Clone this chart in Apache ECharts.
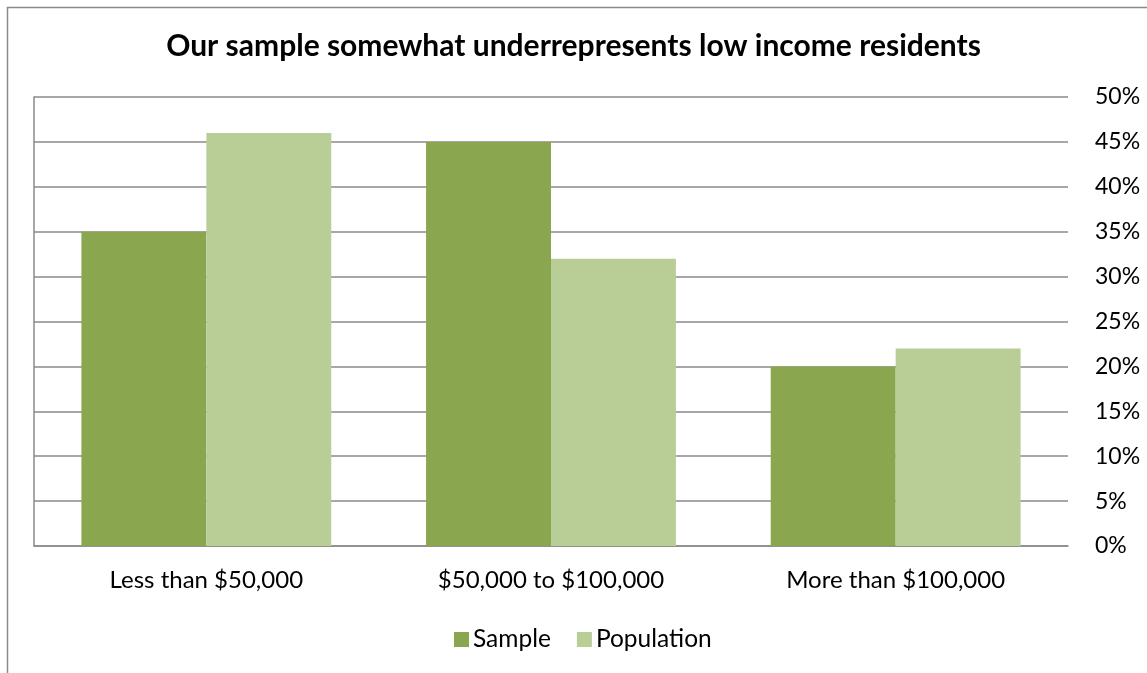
<!DOCTYPE html>
<html>
<head>
<meta charset="utf-8">
<script src="https://cdn.jsdelivr.net/npm/echarts@6/dist/echarts.min.js"></script>
<style>
  html, body { margin: 0; padding: 0; background: #fff; }
  #chart { width: 1147px; height: 673px; }
</style>
</head>
<body>
<div id="chart"></div>
<script>
// Income brackets and shares (fractions of respondents / residents)
const categories = ['Less than $50,000', '$50,000 to $100,000', 'More than $100,000'];
const sampleShare = [0.35, 0.45, 0.20];
const populationShare = [0.46, 0.32, 0.22];
const titleText = 'Our sample somewhat underrepresents low income residents';

const FONT = 'Lato, "Open Sans", sans-serif';
const GRID_COLOR = '#8a8a8a';

const chart = echarts.init(document.getElementById('chart'), null, { renderer: 'canvas' });

chart.setOption({
  animation: false,
  backgroundColor: '#ffffff',
  textStyle: { fontFamily: FONT },
  graphic: [{
    type: 'rect',
    left: 5, top: 5,
    shape: { width: 1200, height: 700 },
    style: { fill: 'none', stroke: '#8a8a8a', lineWidth: 1.5 },
    silent: true
  }],
  title: {
    text: titleText,
    left: 'center',
    top: 26,
    textStyle: { fontFamily: FONT, fontWeight: 'bold', fontSize: 30, color: '#000' }
  },
  legend: {
    data: ['Sample', 'Population'],
    top: 622,
    left: 449,
    itemWidth: 15,
    itemHeight: 15,
    itemGap: 26,
    icon: 'rect',
    textStyle: { fontFamily: FONT, fontSize: 24.5, color: '#000', padding: [0, 0, 0, -1] }
  },
  grid: { left: 34, right: 79, top: 97, bottom: 127, containLabel: false },
  xAxis: {
    type: 'category',
    data: categories,
    axisLine: { show: true, lineStyle: { color: GRID_COLOR, width: 1.5 } },
    axisTick: { show: false },
    axisLabel: { fontFamily: FONT, fontSize: 24, color: '#000', margin: 22 }
  },
  yAxis: [{
    type: 'value',
    position: 'right',
    min: 0,
    max: 0.5,
    interval: 0.05,
    axisLine: { show: false },
    axisTick: { show: false },
    splitLine: { show: true, lineStyle: { color: GRID_COLOR, width: 1.5 } },
    axisLabel: {
      fontFamily: FONT, fontSize: 23, color: '#000', margin: 27,
      formatter: v => Math.round(v * 100) + '%'
    }
  }, {
    type: 'value',
    position: 'left',
    min: 0,
    max: 0.5,
    interval: 0.05,
    axisLine: { show: true, lineStyle: { color: GRID_COLOR, width: 1.5 } },
    axisTick: { show: false },
    axisLabel: { show: false },
    splitLine: { show: false }
  }],
  series: [{
    name: 'Sample',
    type: 'bar',
    data: sampleShare,
    barGap: '0%',
    barCategoryGap: '27.5%',
    itemStyle: { color: '#8aa64f' }
  }, {
    name: 'Population',
    type: 'bar',
    data: populationShare,
    barGap: '0%',
    barCategoryGap: '27.5%',
    itemStyle: { color: '#b9ce97' }
  }]
});
</script>
</body>
</html>
